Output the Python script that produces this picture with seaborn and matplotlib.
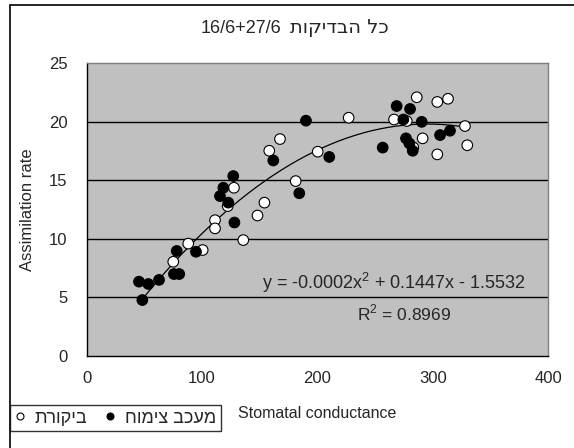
import numpy as np
import pandas as pd
import matplotlib
matplotlib.use("Agg")
import matplotlib.pyplot as plt
import seaborn as sns
from matplotlib.lines import Line2D

# ---- data ----
control_x = [75, 88, 100.5, 127.6, 122.2, 111.2, 111.2, 135.7, 148, 154, 158.2, 167.5,
             181.1, 200.2, 227, 266.3, 277.3, 286, 303.8, 313.1, 327.8, 291.1, 283, 303.8, 329.8]
control_y = [8.05, 9.6, 9.05, 14.37, 12.8, 11.6, 10.9, 9.9, 12.0, 13.1, 17.53, 18.53,
             14.94, 17.45, 20.35, 20.2, 20.07, 22.1, 21.7, 21.97, 19.64, 18.59, 17.82, 17.22, 18.0]
inhib_x = [45.3, 53.4, 62.7, 48.2, 75.6, 80.2, 78, 94.7, 127, 118.4, 115.5, 122.7, 128,
           161.7, 184.2, 190, 210.2, 256.5, 268.6, 274.4, 280.2, 290.3, 314.8, 306.2,
           276.7, 279.6, 282.5]
inhib_y = [6.35, 6.15, 6.5, 4.78, 7.0, 7.0, 8.97, 8.9, 15.37, 14.37, 13.66, 13.1, 11.4,
           16.7, 13.9, 20.1, 17.0, 17.8, 21.35, 20.2, 21.1, 20.0, 19.24, 18.87,
           18.59, 18.16, 17.53]
trend_coef = [-0.000245, 0.1447, -1.5532]

# Hebrew in visual (left-to-right) order
label_control = "תרוקיב"          # ביקורת
label_inhib = "חומיצ בכעמ"        # מעכב צימוח
title_num = "16/6+27/6"
title_heb = "תוקידבה לכ"          # כל הבדיקות
eq_text = "y = -0.0002x$^2$ + 0.1447x - 1.5532"
r2_text = "R$^2$ = 0.8969"

df = pd.DataFrame({
    "x": control_x + inhib_x,
    "y": control_y + inhib_y,
    "group": [label_control] * len(control_x) + [label_inhib] * len(inhib_x),
})

sns.set_style("white")
plt.rcParams["font.family"] = ["Liberation Sans", "DejaVu Sans"]
plt.rcParams["mathtext.fontset"] = "custom"
plt.rcParams["mathtext.rm"] = "Liberation Sans"

W, H = 574, 448
fig = plt.figure(figsize=(W / 100, H / 100), dpi=100)
fig.patch.set_facecolor("white")
ax = fig.add_axes([86.7 / W, 1 - 356 / H, (548.3 - 86.7) / W, (356 - 63.3) / H])
ax.set_facecolor("#C0C0C0")

for yv in [5, 10, 15, 20]:
    ax.axhline(yv, color="black", lw=1.0, zorder=1)

# trendline
xs = np.linspace(min(df["x"]), max(df["x"]), 200)
ax.plot(xs, np.polyval(trend_coef, xs), color="black", lw=0.9, zorder=2)

sns.scatterplot(data=df, x="x", y="y", hue="group",
                palette={label_control: "white", label_inhib: "black"},
                edgecolor="black", linewidth=0.8, s=58, legend=False, ax=ax, zorder=3)

ax.set_xlim(0, 400)
ax.set_ylim(0, 25)
ax.set_xticks([0, 100, 200, 300, 400])
ax.set_yticks([0, 5, 10, 15, 20, 25])
ax.tick_params(axis="both", direction="out", length=5, width=1, color="black",
               labelsize=12, pad=6)
ax.tick_params(axis="y", pad=9)
for s in ["left", "bottom"]:
    ax.spines[s].set_color("black")
    ax.spines[s].set_linewidth(1.0)
for s in ["top", "right"]:
    ax.spines[s].set_color("#808080")
    ax.spines[s].set_linewidth(1.0)

ax.set_xlabel("Stomatal conductance", fontsize=11.5, labelpad=14)
ax.set_ylabel("Assimilation rate", fontsize=12, labelpad=10)

ax.text(262 / W, 1 - 283 / H, eq_text, transform=fig.transFigure, fontsize=13,
        va="center", ha="left")
ax.text(357 / W, 1 - 313 / H, r2_text, transform=fig.transFigure, fontsize=12.5,
        va="center", ha="left")

# title: numbers + Hebrew placed side by side on a shared baseline
t1 = fig.text(201 / W, 1 - 33 / H, title_num, fontsize=13, ha="left", va="baseline")
fig.canvas.draw()
bb = t1.get_window_extent(renderer=fig.canvas.get_renderer())
fig.text((bb.x1 + 8) / W, 1 - 33 / H, title_heb, fontsize=14, ha="left", va="baseline",
         family=["DejaVu Sans"])

handles = [
    Line2D([], [], marker="o", ls="", markerfacecolor="white", markeredgecolor="black",
           markersize=5, markeredgewidth=0.8, label=label_control),
    Line2D([], [], marker="o", ls="", markerfacecolor="black", markeredgecolor="black",
           markersize=5, markeredgewidth=0.8, label=label_inhib),
]
leg = fig.legend(handles=handles, loc="upper left", bbox_to_anchor=(10 / W, 1 - 405 / H),
                 ncol=2, frameon=True, fancybox=False, fontsize=13, handlelength=0.6,
                 handletextpad=0.5, columnspacing=1.0, borderpad=0.25, borderaxespad=0)
leg.get_frame().set_edgecolor("black")
leg.get_frame().set_linewidth(1.0)

# outer chart frame (left and top visible)
fig.add_artist(Line2D([10 / W, 10 / W], [0, 1 - 5 / H], transform=fig.transFigure,
                      color="black", lw=1.2))
fig.add_artist(Line2D([10 / W, 1], [1 - 5 / H, 1 - 5 / H], transform=fig.transFigure,
                      color="black", lw=1.2))

fig.savefig("out.png", dpi=100, facecolor="white")
